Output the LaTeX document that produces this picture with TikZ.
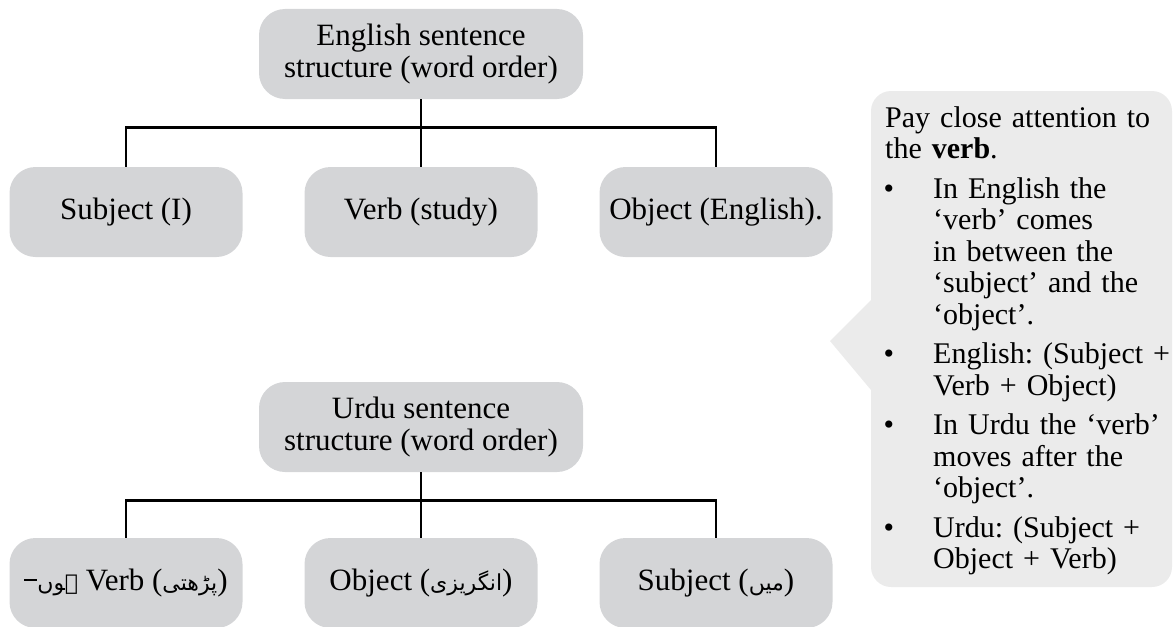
\documentclass[tikz,border=0pt]{standalone}
\usepackage{fontspec}
\setmainfont{Liberation Serif}
\newfontfamily\urdufont[Script=Arabic]{DejaVu Sans}
\TeXXeTstate=1

\definecolor{boxgray}{RGB}{212,213,215}
\definecolor{notegray}{RGB}{235,235,235}
\newcommand{\urdu}[1]{{\urdufont\fontsize{22}{22}\selectfont\beginR #1\endR}}
\newcommand{\urdustop}{\rule[0.32em]{0.42em}{1.6pt}}

\tikzset{
  wordbox/.style={fill=boxgray, rounded corners=26pt, minimum width=233pt, minimum height=90pt,
    inner sep=0pt, align=center, font=\fontsize{31}{32}\selectfont},
  headbox/.style={wordbox, minimum width=324pt},
  branch/.style={line width=2.6pt}
}

\begin{document}
\begin{tikzpicture}[x=1pt, y=-1pt]
  \useasboundingbox (0,0) rectangle (1174,626);

  % English sentence structure
  \node[headbox] (eroot) at (421,54) {English sentence\\structure (word order)};
  \node[wordbox] (esubj) at (126,212) {Subject (I)};
  \node[wordbox] (everb) at (421,212) {Verb (study)};
  \node[wordbox] (eobj)  at (716,212) {Object (English).};
  \draw[branch] (eroot.south) -- ++(0,28) -| (esubj.north);
  \draw[branch] (eroot.south) -- ++(0,28) -| (everb.north);
  \draw[branch] (eroot.south) -- ++(0,28) -| (eobj.north);

  % Urdu sentence structure
  \node[headbox] (uroot) at (421,427) {Urdu sentence\\structure (word order)};
  \node[wordbox] (uverb) at (126,583) {\urdustop\urdu{ہوں} Verb (\urdu{پڑھتی})};
  \node[wordbox] (uobj)  at (421,583) {Object (\urdu{انگریزی})};
  \node[wordbox] (usubj) at (716,583) {Subject (\urdu{میں})};
  \draw[branch] (uroot.south) -- ++(0,28) -| (uverb.north);
  \draw[branch] (uroot.south) -- ++(0,28) -| (uobj.north);
  \draw[branch] (uroot.south) -- ++(0,28) -| (usubj.north);

  % Note on the verb
  \fill[notegray, rounded corners=20pt] (871,91) rectangle (1172,587);
  \fill[notegray] (871,300) -- (830,341) -- (871,390) -- (885,390) -- (885,300) -- cycle;
  \node[anchor=north west, inner sep=0pt, text width=300pt, align=left,
    font=\fontsize{30}{31.5}\selectfont\frenchspacing] (note) at (885,106) {Pay close attention to\\the \textbf{verb}.
    \begin{list}{\textbullet}{\raggedright\setlength\leftmargin{48pt}\setlength\labelwidth{14pt}%
      \setlength\labelsep{39pt}\setlength\topsep{8pt}\setlength\itemsep{8pt}%
      \setlength\parsep{0pt}\setlength\partopsep{0pt}}
    \item In English the\\‘verb’ comes\\in between the\\‘subject’ and the\\‘object’.
    \item English: (Subject +\\Verb + Object)
    \item In Urdu the ‘verb’\\moves after the\\‘object’.
    \item Urdu: (Subject +\\Object + Verb)
    \end{list}};
\end{tikzpicture}
\end{document}
